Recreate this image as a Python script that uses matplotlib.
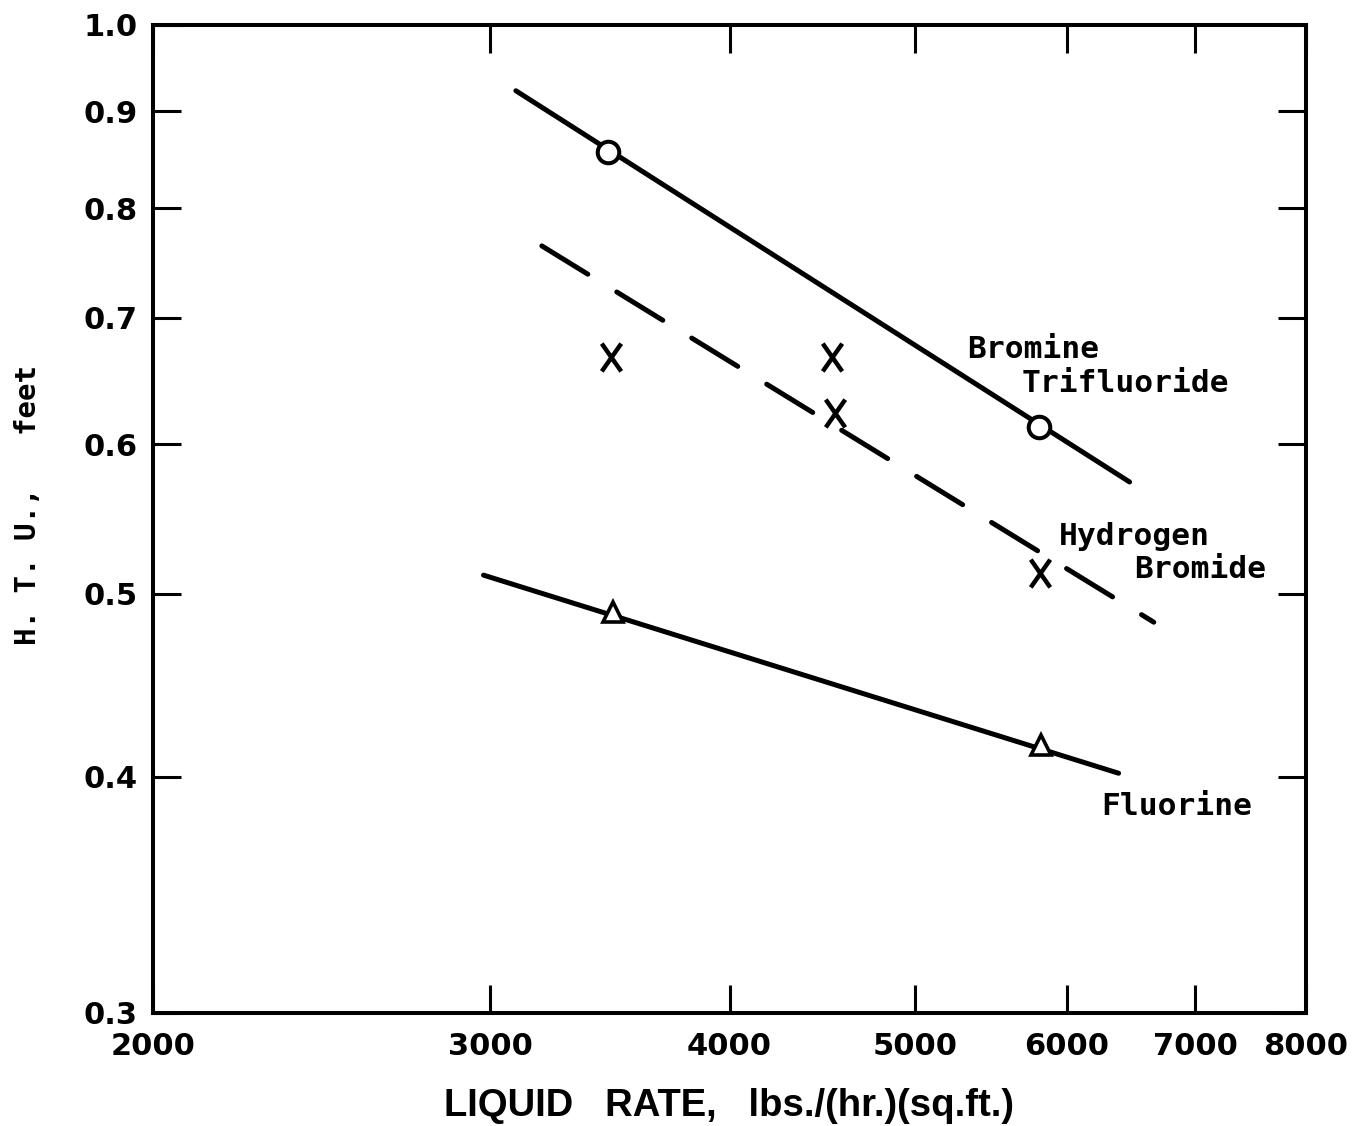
import matplotlib
matplotlib.use("Agg")
import matplotlib.pyplot as plt
from matplotlib.path import Path
from matplotlib.ticker import FixedLocator, FixedFormatter, NullLocator

# ---- data ----
x_ticks = [2000, 3000, 4000, 5000, 6000, 7000, 8000]
x_ticklabels = ["2000", "3000", "4000", "5000", "6000", "7000", "8000"]
y_ticks = [0.3, 0.4, 0.5, 0.6, 0.7, 0.8, 0.9, 1.0]
y_ticklabels = ["0.3", "0.4", "0.5", "0.6", "0.7", "0.8", "0.9", "1.0"]

brf3_pts_x = [3455, 5800]
brf3_pts_y = [0.857, 0.613]
brf3_line_x = [3094, 6471]
brf3_line_y = [0.923, 0.573]

hbr_pts_x = [3470, 4526, 4540, 5808]
hbr_pts_y = [0.667, 0.667, 0.623, 0.513]
hbr_line_x = [3192, 6662]
hbr_line_y = [0.764, 0.483]

f2_pts_x = [3476, 5820]
f2_pts_y = [0.489, 0.416]
f2_line_x = [2976, 6386]
f2_line_y = [0.5115, 0.4018]

main_font = "DejaVu Sans"
mono_font = "DejaVu Sans Mono"
label_font = "Liberation Sans"

# tall "X" shaped marker like the hand-lettered crosses
x_marker = Path([(-0.7, -1), (0.7, 1), (-0.7, 1), (0.7, -1)],
                [Path.MOVETO, Path.LINETO, Path.MOVETO, Path.LINETO])

fig = plt.figure(figsize=(13.65, 11.26), dpi=100)
ax = fig.add_axes([153 / 1365, 1 - 1013 / 1126, (1306 - 153) / 1365, (1013 - 25) / 1126])
ax.set_xscale("log")
ax.set_yscale("log")
ax.set_xlim(2000, 8000)
ax.set_ylim(0.3, 1.0)

lw = 3.6
# lines
ax.plot(brf3_line_x, brf3_line_y, color="black", lw=lw, solid_capstyle="round", zorder=2)
ax.plot(hbr_line_x, hbr_line_y, color="black", lw=lw, linestyle=(0, (10.8, 6.8)),
        dash_capstyle="round", zorder=2)
ax.plot(f2_line_x, f2_line_y, color="black", lw=lw, solid_capstyle="round", zorder=2)

# markers
ax.plot(brf3_pts_x, brf3_pts_y, linestyle="none", marker="o", markersize=15.5,
        markerfacecolor="white", markeredgecolor="black", markeredgewidth=2.9, zorder=3)
ax.plot(hbr_pts_x, hbr_pts_y, linestyle="none", marker=x_marker, markersize=20,
        markerfacecolor="none", markeredgecolor="black", markeredgewidth=3.2, zorder=3)
ax.plot(f2_pts_x, f2_pts_y, linestyle="none", marker="^", markersize=15,
        markerfacecolor="white", markeredgecolor="black", markeredgewidth=2.6, zorder=3)

# labels on curves
lab_kw = dict(fontsize=22.5, fontweight="bold", family=mono_font, ha="left", va="center")
ax.text(5320, 0.673, "Bromine", **lab_kw)
ax.text(5683, 0.646, "Trifluoride", **lab_kw)
ax.text(5942, 0.536, "Hydrogen", **lab_kw)
ax.text(6510, 0.515, "Bromide", **lab_kw)
ax.text(6256, 0.386, "Fluorine", **lab_kw)

# ticks
ax.xaxis.set_major_locator(FixedLocator(x_ticks))
ax.xaxis.set_major_formatter(FixedFormatter(x_ticklabels))
ax.xaxis.set_minor_locator(NullLocator())
ax.yaxis.set_major_locator(FixedLocator(y_ticks))
ax.yaxis.set_major_formatter(FixedFormatter(y_ticklabels))
ax.yaxis.set_minor_locator(NullLocator())

ax.tick_params(axis="both", which="major", direction="in", length=20, width=2.2,
               top=True, right=True, labelsize=22)
ax.tick_params(axis="x", pad=14)
ax.tick_params(axis="y", pad=11)
for lab in ax.get_xticklabels() + ax.get_yticklabels():
    lab.set_fontweight("bold")
    lab.set_family(main_font)

for sp in ax.spines.values():
    sp.set_linewidth(2.9)

ax.set_xlabel("LIQUID   RATE,   lbs./(hr.)(sq.ft.)", fontsize=27.5, fontweight="bold",
              family=label_font)
ax.xaxis.set_label_coords(0.5, -0.076)
ax.set_ylabel("H. T. U.,   feet", fontsize=21, fontweight="bold", family=mono_font)
ax.yaxis.set_label_coords(-0.096, 0.514)

fig.savefig("out.png", dpi=100, facecolor="white")
